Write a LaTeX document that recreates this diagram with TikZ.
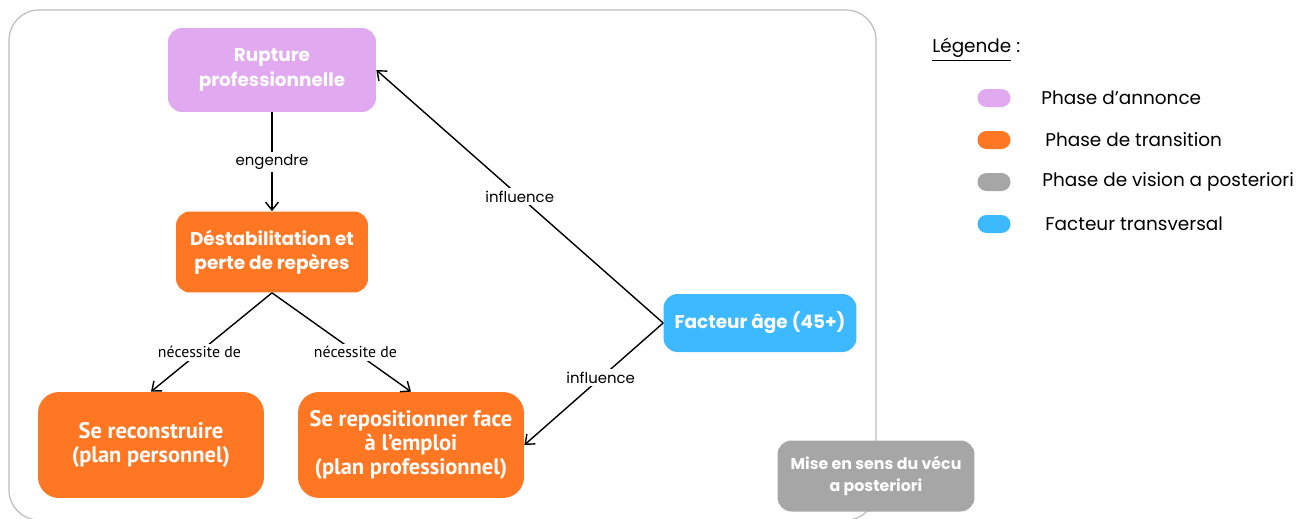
\documentclass[tikz,border=0pt]{standalone}
\usepackage{fontspec}
\setmainfont{Poppins}
\newfontfamily\narrowfont{PT Sans}
\usepackage{tikz}
\usetikzlibrary{arrows.meta, positioning}
\definecolor{annonce}{HTML}{E1A9EF}
\definecolor{transition}{HTML}{FF7723}
\definecolor{posteriori}{HTML}{A6A6A6}
\definecolor{transversal}{HTML}{3DB9FF}
\definecolor{framegray}{HTML}{BDBDBD}
\tikzset{%
	phase box/.style={
		rounded corners=0.28cm,
		draw=none,
		text=white,
		align=center,
		font=\bfseries\fontsize{10.5}{13.8}\selectfont
	},
	wide box/.style={
		phase box,
		rounded corners=0.42cm,
		font=\narrowfont\bfseries\fontsize{12.8}{13.8}\selectfont
	},
	link/.style={
		-{Straight Barb[length=1.6mm,width=2.6mm]},
		line width=0.8pt
	},
	link label/.style={
		fill=white,
		inner sep=1.5pt,
		font=\fontsize{8.5}{10}\selectfont
	},
	swatch/.style={
		rounded corners=0.18cm,
		minimum width=0.66cm,
		minimum height=0.36cm,
		inner sep=0pt
	},
	legend text/.style={
		anchor=west,
		inner sep=0pt,
		font=\fontsize{10.5}{12}\selectfont
	},
}

\begin{document}
\begin{tikzpicture}[x=0.02cm, y=-0.02cm]
			\useasboundingbox (0,0) rectangle (1306,518);
			
			% Draw the frame
			\draw[framegray, line width=0.7pt, rounded corners=0.6cm] (9,10) rectangle (876,520);
			
			% Draw the boxes
			\node[phase box, fill=annonce, minimum width=4.16cm, minimum height=1.68cm] (rupture) at (272,70) {Rupture\\professionnelle};
			\node[phase box, fill=transition, minimum width=3.84cm, minimum height=1.62cm] (destab) at (272,252) {Déstabilitation et\\perte de repères};
			\node[wide box, fill=transition, minimum width=4.52cm, minimum height=2.12cm] (reco) at (151,445) {Se reconstruire\\(plan personnel)};
			\node[wide box, fill=transition, minimum width=4.52cm, minimum height=2.12cm] (repos) at (411,445) {Se repositionner face\\à l’emploi\\(plan professionnel)};
			\node[phase box, fill=transversal, minimum width=3.86cm, minimum height=1.16cm, font=\bfseries\fontsize{10.5}{13}\selectfont] (age) at (760,323) {Facteur âge (45+)};
			\node[phase box, fill=posteriori, minimum width=3.94cm, minimum height=1.42cm, font=\bfseries\fontsize{9}{12}\selectfont] (sens) at (876,476) {Mise en sens du vécu\\a posteriori};
			
			% Draw the arrows
			\draw[link] (rupture.south) -- node[link label, midway] {engendre} (destab.north);
			\draw[link] (destab.south) -- node[link label, pos=0.6, font=\narrowfont\fontsize{9}{10}\selectfont] {nécessite de} (reco.north);
			\draw[link] (destab.south) -- node[link label, pos=0.6, font=\narrowfont\fontsize{9}{10}\selectfont] {nécessite de} (repos.north);
			\draw[link] (age.west) -- node[link label, midway] {influence} (rupture.east);
			\draw[link] (age.west) -- node[link label, pos=0.45] {influence} (repos.east);
			
			% Draw the legend
			\node[legend text] (legende) at (932,50) {\underline{Légende} :};
			\node[swatch, fill=annonce] (sw1) at (994,98) {};
			\node[legend text] (lg1) at (1041,98) {Phase d’annonce};
			\node[swatch, fill=transition] (sw2) at (994,140) {};
			\node[legend text] (lg2) at (1045,140) {Phase de transition};
			\node[swatch, fill=posteriori] (sw3) at (994,182) {};
			\node[legend text] (lg3) at (1042,182) {Phase de vision a posteriori};
			\node[swatch, fill=transversal] (sw4) at (994,224) {};
			\node[legend text] (lg4) at (1045,224) {Facteur transversal};
			
		\end{tikzpicture}
\end{document}
